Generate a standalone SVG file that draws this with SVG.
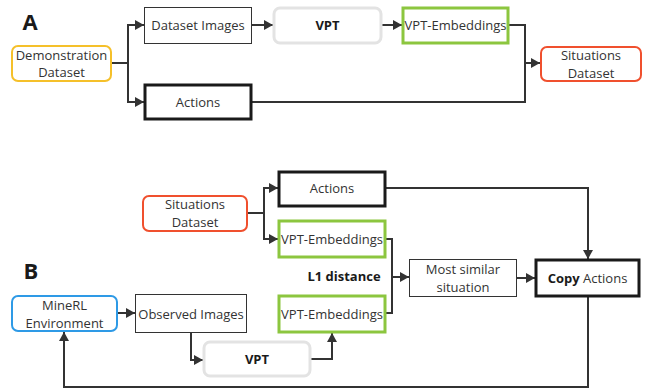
<svg xmlns="http://www.w3.org/2000/svg" width="646" height="391" viewBox="0 0 646 391">
<style>
text{font-family:"Open Sans","Noto Sans","Liberation Sans",sans-serif;font-size:13px;fill:#333;text-anchor:middle;dominant-baseline:central}
.lbl{font-size:22px;font-weight:bold;fill:#1a1a1a}
.b{font-weight:bold;fill:#1a1a1a}
.thin{fill:#fff;stroke:#333;stroke-width:1}
.thick{fill:#fff;stroke:#1a1a1a;stroke-width:3}
.gray{fill:#fff;stroke:#e3e3e3;stroke-width:3}
.green{fill:#fff;stroke:#8cc63f;stroke-width:3}
.red{fill:#fff;stroke:#f0502e;stroke-width:2}
.orange{fill:#fff;stroke:#f5c02a;stroke-width:2}
.blue{fill:#fff;stroke:#2e9ae6;stroke-width:2}
.c{fill:none;stroke:#333;stroke-width:2}
.ca{fill:none;stroke:#333;stroke-width:2;marker-end:url(#ah)}
</style>
<defs>
<marker id="ah" markerUnits="userSpaceOnUse" markerWidth="9" markerHeight="10" refX="9" refY="5" orient="auto">
<path d="M0,0 L9,5 L0,10 z" fill="#333"/>
</marker>
</defs>
<text class="lbl" x="30" y="21">A</text>
<text class="lbl" x="31" y="270">B</text>
<g id="connectors">
<path class="c" d="M112,63 H128"/>
<path class="ca" d="M128,63 V25 H144"/>
<path class="ca" d="M128,63 V102 H144"/>
<path class="ca" d="M252,25 H273"/>
<path class="ca" d="M382,25 H402"/>
<path class="c" d="M509,25 H525 V102 H252"/>
<path class="ca" d="M525,63 H540"/>
<path class="c" d="M248,213 H264"/>
<path class="ca" d="M264,213 V188 H278"/>
<path class="ca" d="M264,213 V239 H278"/>
<path class="ca" d="M386,188 H588 V259"/>
<path class="c" d="M386,239 H392 V313 H386"/>
<path class="ca" d="M392,277 H409"/>
<path class="ca" d="M517,278 H535"/>
<path class="ca" d="M118,313 H135"/>
<path class="ca" d="M191,333 V360 H203"/>
<path class="ca" d="M311,359 H332 V333"/>
<path class="ca" d="M588,297 V387 H64 V332"/>
</g>
<g id="demo"><rect class="orange" x="12" y="46" width="99" height="35" rx="6"/><text x="61.5" y="55">Demonstration</text><text x="61.5" y="72">Dataset</text></g>
<g id="dsimg"><rect class="thin" x="144.5" y="7.5" width="107" height="36"/><text x="198" y="25">Dataset Images</text></g>
<g id="vptA"><rect class="gray" x="274" y="8" width="107" height="35" rx="6"/><text class="b" x="327.5" y="25">VPT</text></g>
<g id="embA"><rect class="green" x="403" y="8" width="105" height="35"/><text x="455.5" y="25">VPT-Embeddings</text></g>
<g id="sitA"><rect class="red" x="541" y="47" width="100" height="34" rx="6"/><text x="591" y="55">Situations</text><text x="591" y="73">Dataset</text></g>
<g id="actA"><rect class="thick" x="145" y="85" width="106" height="34"/><text x="198" y="102">Actions</text></g>
<g id="sitB"><rect class="red" x="143" y="196" width="104" height="35" rx="6"/><text x="195" y="204">Situations</text><text x="195" y="222">Dataset</text></g>
<g id="actB"><rect class="thick" x="279" y="172" width="106" height="34"/><text x="332" y="188">Actions</text></g>
<g id="embB1"><rect class="green" x="279" y="221" width="106" height="36"/><text x="332" y="239">VPT-Embeddings</text></g>
<text class="b" x="344" y="276">L1 distance</text>
<g id="most"><rect class="thin" x="409.5" y="259.5" width="107" height="37"/><text x="463" y="269">Most similar</text><text x="463" y="287">situation</text></g>
<g id="copy"><rect class="thick" x="536" y="260" width="103" height="36"/><text x="587.5" y="278"><tspan class="b">Copy</tspan> Actions</text></g>
<g id="minerl"><rect class="blue" x="12" y="296" width="105" height="35" rx="6"/><text x="64.5" y="305">MineRL</text><text x="64.5" y="323">Environment</text></g>
<g id="obs"><rect class="thin" x="135.5" y="294.5" width="111" height="38"/><text x="191" y="314">Observed Images</text></g>
<g id="embB2"><rect class="green" x="279" y="296" width="106" height="36"/><text x="332" y="314">VPT-Embeddings</text></g>
<g id="vptB"><rect class="gray" x="204" y="342" width="106" height="34" rx="6"/><text class="b" x="257" y="359">VPT</text></g>
</svg>
